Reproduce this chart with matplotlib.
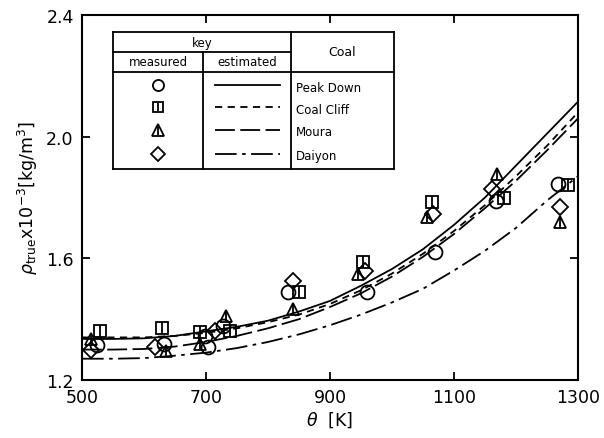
import matplotlib
matplotlib.use("Agg")
import matplotlib.pyplot as plt
from matplotlib.lines import Line2D

plt.rcParams['font.family'] = ['DejaVu Sans']

# estimated curves, every 50 K
temp_curve = [500, 550, 600, 650, 700, 750, 800, 850, 900, 950, 1000, 1050, 1100, 1150, 1200, 1250, 1300]
peak_down_est = [1.335, 1.335, 1.337, 1.345, 1.36, 1.375, 1.395, 1.425, 1.46, 1.51, 1.565, 1.63, 1.71, 1.80, 1.905, 2.01, 2.115]
coal_cliff_est = [1.34, 1.34, 1.34, 1.345, 1.355, 1.37, 1.39, 1.415, 1.45, 1.495, 1.55, 1.615, 1.69, 1.775, 1.87, 1.97, 2.08]
moura_est = [1.30, 1.30, 1.302, 1.31, 1.325, 1.345, 1.37, 1.40, 1.44, 1.485, 1.54, 1.605, 1.68, 1.765, 1.855, 1.955, 2.06]
daiyon_est = [1.27, 1.27, 1.272, 1.28, 1.29, 1.305, 1.325, 1.35, 1.38, 1.415, 1.455, 1.50, 1.56, 1.625, 1.70, 1.79, 1.87]

# measured points
peak_down_T = [524, 632, 698, 703, 727, 832, 960, 1069, 1168, 1268]
peak_down_rho = [1.315, 1.318, 1.345, 1.31, 1.378, 1.49, 1.49, 1.62, 1.79, 1.845]
coal_cliff_T = [529, 629, 690, 739, 850, 953, 1065, 1181, 1284]
coal_cliff_rho = [1.36, 1.37, 1.358, 1.36, 1.49, 1.588, 1.785, 1.80, 1.84]
moura_T = [515, 635, 690, 732, 840, 945, 1056, 1169, 1271]
moura_rho = [1.335, 1.295, 1.32, 1.41, 1.433, 1.55, 1.735, 1.877, 1.72]
daiyon_T = [515, 618, 714, 840, 956, 1066, 1161, 1271]
daiyon_rho = [1.30, 1.31, 1.36, 1.525, 1.56, 1.745, 1.828, 1.77]

coal_names = ['Peak Down', 'Coal Cliff', 'Moura', 'Daiyon']

W, H = 604, 439
fig = plt.figure(figsize=(W / 100, H / 100), dpi=100)
ax = fig.add_axes([82 / W, 1 - 381 / H, (578 - 82) / W, (381 - 16) / H])

styles = {
    'Peak Down': dict(ls='-'),
    'Coal Cliff': dict(ls=(0, (4, 3))),
    'Moura': dict(ls=(0, (11, 3))),
    'Daiyon': dict(ls=(0, (12, 3, 2, 3))),
}
ests = [peak_down_est, coal_cliff_est, moura_est, daiyon_est]
for name, est in zip(coal_names, ests):
    ax.plot(temp_curve, est, color='black', lw=1.3, **styles[name])

mk = dict(mfc='none', mec='black', mew=1.3, ls='none')
ax.plot(peak_down_T, peak_down_rho, marker='o', ms=10, **mk)
ax.plot(coal_cliff_T, coal_cliff_rho, marker='s', ms=8, **mk)
ax.plot(coal_cliff_T, coal_cliff_rho, marker='|', ms=8, **mk)
ax.plot(moura_T, moura_rho, marker='^', ms=9, **mk)
ax.plot(moura_T, moura_rho, marker='|', ms=7, **mk)
ax.plot(daiyon_T, daiyon_rho, marker='D', ms=8, **mk)

ax.set_xlim(500, 1300)
ax.set_ylim(1.2, 2.4)
ax.set_xticks([500, 700, 900, 1100, 1300])
ax.set_yticks([1.2, 1.6, 2.0, 2.4])
ax.set_yticklabels(['1.2', '1.6', '2.0', '2.4'])
ax.tick_params(direction='in', length=6, width=1.3, labelsize=12.5,
               top=True, right=True, pad=6)
for s in ax.spines.values():
    s.set_linewidth(1.5)
ax.set_xlabel(r'$\theta$  [K]', fontsize=12.5, labelpad=2)
ax.set_ylabel(r'$\rho_{\rm true}$x10$^{-3}$[kg/m$^3$]', fontsize=12.5, labelpad=4)

# key table drawn in pixel space
def fx(px):
    return px / W

def fy(py):
    return 1 - py / H

def hline(x0, x1, y):
    fig.add_artist(Line2D([fx(x0), fx(x1)], [fy(y), fy(y)], color='black', lw=1.3))

def vline(x, y0, y1):
    fig.add_artist(Line2D([fx(x), fx(x)], [fy(y0), fy(y1)], color='black', lw=1.3))

left, c1, c2, right = 113, 203, 291, 394
top, r1, r2, bottom = 33, 53, 73, 170
hline(left, right, top)
hline(left, c2, r1)
hline(left, right, r2)
hline(left, right, bottom)
vline(left, top, bottom)
vline(c1, r1, bottom)
vline(c2, top, bottom)
vline(right, top, bottom)

fs = 8.5
fig.text(fx((left + c2) / 2), fy(43), 'key', ha='center', va='center', fontsize=fs)
fig.text(fx((left + c1) / 2), fy(63), 'measured', ha='center', va='center', fontsize=fs)
fig.text(fx((c1 + c2) / 2), fy(63), 'estimated', ha='center', va='center', fontsize=fs)
fig.text(fx((c2 + right) / 2), fy(53), 'Coal', ha='center', va='center', fontsize=fs + 0.5)

row_y = [86, 108, 131, 155]
key_marks = [('o', 8, None), ('s', 7, '|'), ('^', 8, '|'), ('D', 7, None)]
for name, ry, (m, ms, extra) in zip(coal_names, row_y, key_marks):
    mx = (left + c1) / 2
    fig.add_artist(Line2D([fx(mx)], [fy(ry)], marker=m, ms=ms, mfc='none',
                          mec='black', mew=1.3, ls='none'))
    if extra:
        fig.add_artist(Line2D([fx(mx)], [fy(ry)], marker=extra, ms=ms - 1,
                              mec='black', mew=1.3, ls='none'))
    fig.add_artist(Line2D([fx(215), fx(280)], [fy(ry), fy(ry)], color='black',
                          lw=1.3, **styles[name]))
    fig.text(fx(296), fy(ry + 2), name, ha='left', va='center', fontsize=fs)

fig.savefig('out.png', dpi=100)
